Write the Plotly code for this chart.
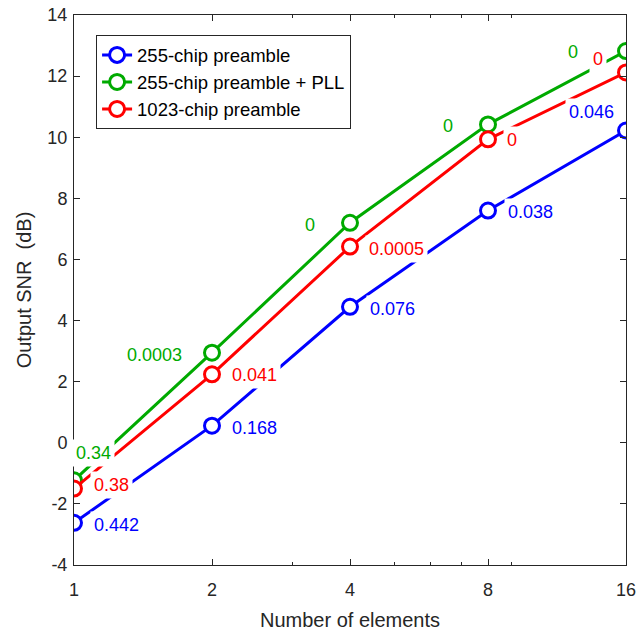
import math
import plotly.graph_objects as go

elements = [1, 2, 4, 8, 16]
snr_255 = [-2.62, 0.56, 4.45, 7.6, 10.22]
snr_255_pll = [-1.23, 2.95, 7.2, 10.42, 12.82]
snr_1023 = [-1.5, 2.24, 6.42, 9.93, 12.12]

labels_255 = ["0.442", "0.168", "0.076", "0.038", "0.046"]
labels_255_pll = ["0.34", "0.0003", "0", "0", "0"]
labels_1023 = ["0.38", "0.041", "0.0005", "0", "0"]

y_ticks = list(range(-4, 15, 2))
y_ticktext = [str(v) for v in y_ticks]

names = ["255-chip preamble", "255-chip preamble + PLL", "1023-chip preamble"]
colors = ["#0000FF", "#00AA00", "#FF0000"]

FONT = "Liberation Sans, Arial, sans-serif"
FS = 18
AX = "#262626"

fig = go.Figure()
for name, ys, col in zip(names, [snr_255, snr_255_pll, snr_1023], colors):
    fig.add_trace(go.Scatter(
        x=elements, y=ys, name=name, mode="lines+markers",
        line=dict(color=col, width=3),
        marker=dict(symbol="circle", size=15, color="white",
                    line=dict(color=col, width=3)),
    ))

annotations = []
blue_off = [(16, -2, "left"), (16, -2, "left"), (16, -2, "left"), (16, -1, "left"), (-8, 19, "right")]
green_off = [(-2, 27, "left"), (-26, -2, "right"), (-31, -2, "right"), (-31, -2, "right"), (-44, -1, "right")]
red_off = [(16, 4, "left"), (16, -1, "left"), (15, -2, "left"), (15, -1, "left"), (-19, 13, "right")]

for labels, ys, col, offs in [(labels_255, snr_255, colors[0], blue_off),
                              (labels_255_pll, snr_255_pll, colors[1], green_off),
                              (labels_1023, snr_1023, colors[2], red_off)]:
    for xv, yv, t, (dx, dy, anc) in zip(elements, ys, labels, offs):
        annotations.append(dict(
            x=math.log10(xv), y=yv, xref="x", yref="y", text=t, showarrow=False,
            xanchor=anc, yanchor="middle", xshift=dx, yshift=dy,
            font=dict(family=FONT, size=FS, color=col),
            bgcolor="white", borderpad=3,
        ))

axis_common = dict(
    showline=True, linecolor=AX, linewidth=1, mirror="ticks",
    ticks="inside", ticklen=6, tickcolor=AX, showgrid=False, zeroline=False,
    tickfont=dict(family=FONT, size=FS, color=AX), automargin=False,
)

fig.update_layout(
    width=639, height=634,
    margin=dict(l=74, r=13, t=15, b=69),
    paper_bgcolor="white", plot_bgcolor="white",
    font=dict(family=FONT, size=FS, color=AX),
    xaxis=dict(type="log", range=[0, math.log10(16)], tickvals=elements,
               ticktext=[str(e) for e in elements], ticklabelstandoff=8,
               title=dict(text="Number of elements", font=dict(family=FONT, size=20, color=AX), standoff=14),
               minor=dict(tickvals=[3, 5, 6, 7, 9], ticks="inside", ticklen=3, tickcolor=AX),
               **axis_common),
    yaxis=dict(range=[-4, 14], tickvals=y_ticks, ticktext=y_ticktext, ticklabelstandoff=2,
               title=dict(text="Output SNR\u00a0\u00a0(dB)", font=dict(family=FONT, size=20, color=AX), standoff=10),
               **axis_common),
    legend=dict(x=0.04, y=0.963, xanchor="left", yanchor="top",
                bordercolor=AX, borderwidth=1, bgcolor="white",
                font=dict(family=FONT, size=18.5, color="black"),
                tracegroupgap=0, itemsizing="trace"),
    annotations=annotations,
    showlegend=True,
)

fig.write_html("out.html", config={"displayModeBar": False},
               post_script="document.body.style.margin='0';document.documentElement.style.overflow='hidden';")
